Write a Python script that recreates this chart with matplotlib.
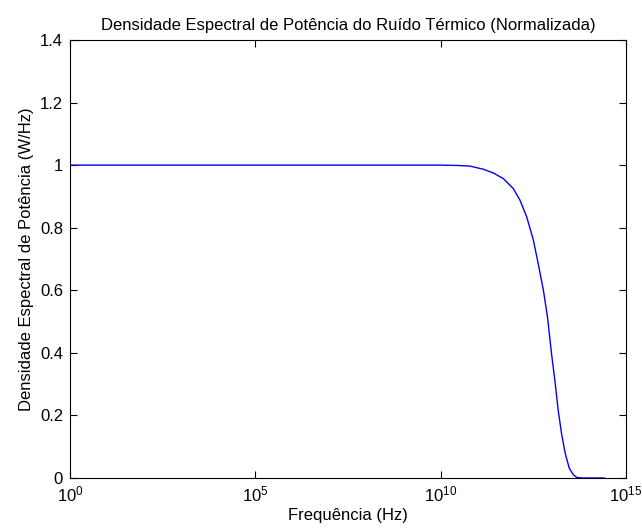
# Densidade espectral do ruido termico (normalizada), eixo de frequencia em log
import matplotlib
matplotlib.use("Agg")
import matplotlib.pyplot as plt
from matplotlib.ticker import FixedLocator, NullLocator

# pontos da curva: expoente da frequencia (log10 Hz) e densidade normalizada
log_freq = [0.0, 5.0, 10.0, 10.45, 10.79, 11.15, 11.42, 11.69, 11.96, 12.14,
            12.32, 12.50, 12.63, 12.77, 12.88, 12.99, 13.09, 13.17, 13.26,
            13.36, 13.47, 13.58, 13.67, 13.80, 14.41]
densidade = [1.0, 1.0, 1.0, 0.999, 0.997, 0.987, 0.975, 0.957, 0.925, 0.888,
             0.835, 0.761, 0.686, 0.601, 0.516, 0.398, 0.303, 0.217, 0.143,
             0.079, 0.031, 0.010, 0.002, 0.0, 0.0]
freq = [10 ** e for e in log_freq]

x_ticks = [1e0, 1e5, 1e10, 1e15]
x_labels = [r"$10^{0}$", r"$10^{5}$", r"$10^{10}$", r"$10^{15}$"]
y_ticks = [0, 0.2, 0.4, 0.6, 0.8, 1.0, 1.2, 1.4]
y_labels = ["0", "0.2", "0.4", "0.6", "0.8", "1", "1.2", "1.4"]

plt.rcParams['font.family'] = ['Liberation Sans', 'DejaVu Sans']
plt.rcParams['mathtext.fontset'] = 'custom'
plt.rcParams['mathtext.rm'] = 'Liberation Sans'
plt.rcParams['mathtext.it'] = 'Liberation Sans'

fig = plt.figure(figsize=(6.42, 5.3), dpi=100)
ax = fig.add_axes([70 / 642, 52 / 530, 556 / 642, 438 / 530])

ax.plot(freq, densidade, color=(0, 0, 1), linewidth=1.0)

ax.set_xscale('log')
ax.set_xlim(1e0, 1e15)
ax.set_ylim(0, 1.4)
ax.xaxis.set_major_locator(FixedLocator(x_ticks))
ax.xaxis.set_minor_locator(NullLocator())
ax.set_xticklabels(x_labels)
ax.set_yticks(y_ticks)
ax.set_yticklabels(y_labels)

ax.tick_params(direction='in', length=5, width=0.8, top=True, right=True,
               labelsize=12)
ax.tick_params(axis='x', pad=5)
ax.tick_params(axis='y', pad=5)
for s in ax.spines.values():
    s.set_linewidth(0.8)

ax.set_title("Densidade Espectral de Potência do Ruído Térmico (Normalizada)",
             fontsize=12, pad=7)
ax.set_xlabel("Frequência (Hz)", fontsize=12, labelpad=2)
ax.set_ylabel("Densidade Espectral de Potência (W/Hz)", fontsize=12, labelpad=4)

fig.savefig("out.png", dpi=100)
